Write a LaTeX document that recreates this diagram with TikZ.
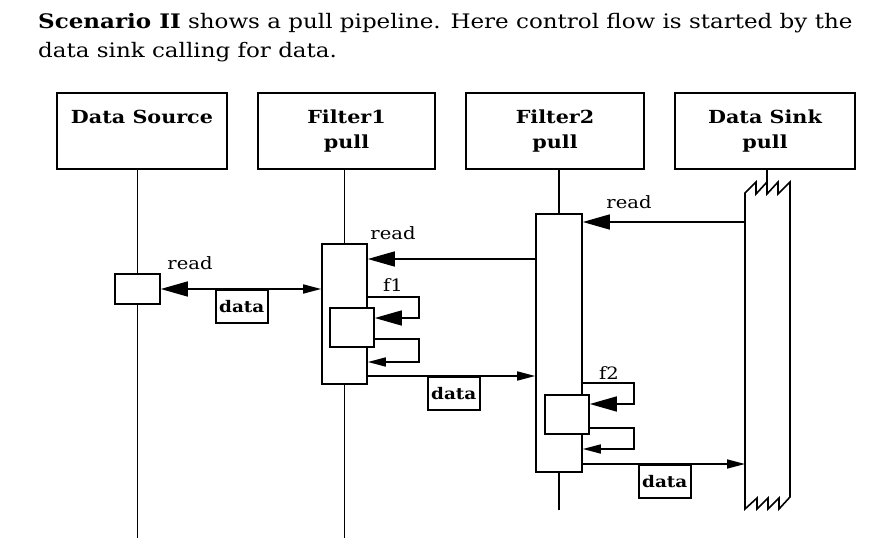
\documentclass[tikz,border=0pt]{standalone}
\usepackage{fontspec}
\setmainfont{DejaVu Serif}[FakeStretch=1.15]
\usetikzlibrary{arrows.meta}
\tikzset{
  maintxt/.style={anchor=base west, inner sep=0pt, font=\fontsize{20}{24}\selectfont},
  lbl/.style={inner sep=0pt, font=\fontsize{17}{20}\selectfont},
  hdr/.style={draw, line width=1.6pt, minimum height=76pt, align=center, inner sep=0pt,
    font=\fontsize{18}{25}\selectfont\bfseries},
  act/.style={draw, fill=white, line width=1.6pt, inner sep=0pt},
  life/.style={line width=1.5pt},
  msg/.style={line width=1.6pt},
  bigtip/.style={-{Triangle[length=27pt,width=15pt]}},
  smalltip/.style={-{Triangle[length=18pt,width=9pt]}},
  bothtip/.style={{Triangle[length=27pt,width=15pt]}-{Triangle[length=18pt,width=9pt]}},
  databox/.style={draw, line width=1.6pt, minimum width=52pt, minimum height=33pt, inner sep=0pt,
    anchor=north west, font=\fontsize{16}{20}\selectfont\bfseries},
}
\begin{document}
\begin{tikzpicture}[x=1pt,y=-1pt]
\useasboundingbox (0,0) rectangle (888,545);
% intro text
\node[maintxt] (t1) at (38,29) {\textbf{Scenario II} shows a pull pipeline. Here control flow is started by the};
\node[maintxt] (t2) at (38,58) {data sink calling for data.};
% headers
\node[hdr, minimum width=170pt] (hDS) at (142,131) {Data Source\\\phantom{pull}};
\node[hdr, minimum width=177pt] (hF1) at (346.5,131) {Filter1\\pull};
\node[hdr, minimum width=178pt] (hF2) at (555,131) {Filter2\\pull};
\node[hdr, minimum width=180pt] (hSK) at (765,131) {Data Sink\\pull};
% activation positions (for lifelines)
\coordinate (cDS) at (137.5,0);
\coordinate (cF1) at (344.5,0);
\coordinate (cF2) at (559,0);
\coordinate (cSK) at (767,0);
\coordinate (yEnd) at (0,538);
\coordinate (yEnd2) at (0,510);
\coordinate (skTop) at (767,186);
% lifelines
\draw[life] (cDS |- hDS.south) -- (cDS |- yEnd);
\draw[life] (cF1 |- hF1.south) -- (cF1 |- yEnd);
\draw[life] (cF2 |- hF2.south) -- (cF2 |- yEnd2);
\draw[life] (skTop |- hSK.south) -- (skTop);
% activations
\node[act, minimum width=45pt, minimum height=30pt] (aDS) at (137.5,289) {};
\node[act, minimum width=45pt, minimum height=140pt] (aF1) at (344.5,314) {};
\node[act, minimum width=44pt, minimum height=39pt] (iF1) at (352,327.5) {};
\node[act, minimum width=46pt, minimum height=258pt] (aF2) at (559,343) {};
\node[act, minimum width=44pt, minimum height=39pt] (iF2) at (567,414.5) {};
% data sink band
\draw[act] (745,509) -- (745,193) -- (756,182) -- (756,194) -- (767,182) -- (767,194)
  -- (778,182) -- (778,194) -- (790,182) -- (790,497) -- (779,509) -- (779,498)
  -- (768,509) -- (768,498) -- (757,509) -- (757,498) -- cycle;
\coordinate (skW) at (745,300);
% y levels
\coordinate (y1) at (0,222);
\coordinate (y2) at (0,259);
\coordinate (y4a) at (0,297);
\coordinate (y4b) at (0,318);
\coordinate (y5a) at (0,339);
\coordinate (y5b) at (0,362);
\coordinate (y6) at (0,376);
\coordinate (y7a) at (0,383);
\coordinate (y7b) at (0,404);
\coordinate (y8a) at (0,428);
\coordinate (y8b) at (0,449);
\coordinate (y9) at (0,464);
% messages
\draw[msg,bigtip] (skW |- y1) -- (aF2.east |- y1);
\node[lbl] (r1) at (629,202) {read};
\draw[msg,bigtip] (aF2.west |- y2) -- (aF1.east |- y2);
\node[lbl] (r2) at (393,233) {read};
\draw[msg,bothtip] (aDS.east) -- (aF1.west |- aDS.east);
\node[lbl] (r3) at (190,263) {read};
\node[databox] (d1) at (215,289) {data};
% f1 loops
\draw[msg,bigtip] (aF1.east |- y4a) -- (419,297) -- (419,318) -- (iF1.east |- y4b);
\node[lbl] (f1) at (393,285) {f1};
\draw[msg,smalltip] (iF1.east |- y5a) -- (419,339) -- (419,362) -- (aF1.east |- y5b);
% data F1 -> F2
\draw[msg,smalltip] (aF1.east |- y6) -- (aF2.west |- y6);
\node[databox] (d2) at (427,376) {data};
% f2 loops
\draw[msg,bigtip] (aF2.east |- y7a) -- (634,383) -- (634,404) -- (iF2.east |- y7b);
\node[lbl] (f2) at (609,373) {f2};
\draw[msg,smalltip] (iF2.east |- y8a) -- (634,428) -- (634,449) -- (aF2.east |- y8b);
% data F2 -> sink
\draw[msg,smalltip] (aF2.east |- y9) -- (skW |- y9);
\node[databox] (d3) at (638,464) {data};
\end{tikzpicture}
\end{document}
